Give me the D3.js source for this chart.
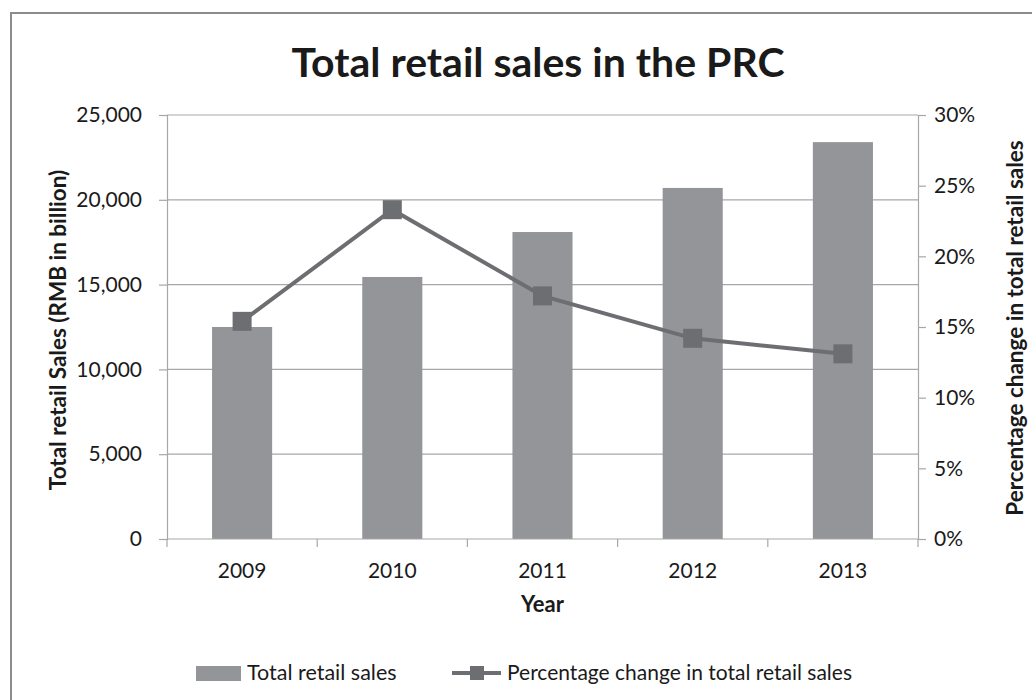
<!DOCTYPE html>
<html><head><meta charset="utf-8">
<script src="https://cdn.jsdelivr.net/npm/d3@7"></script>
<style>body{margin:0;background:#fff}svg{display:block}text{font-family:Lato,"Open Sans",sans-serif;fill:#1a1a1a}</style>
</head><body>
<svg id="c" width="1032" height="700"></svg>
<script>
const years = ["2009","2010","2011","2012","2013"];
const sales = [12500, 15450, 18100, 20700, 23400];
const pctChange = [0.154, 0.233, 0.172, 0.142, 0.131];
const leftTicks = [0, 5000, 10000, 15000, 20000, 25000];
const rightTicks = [0, 0.05, 0.10, 0.15, 0.20, 0.25, 0.30];
const titleText = "Total retail sales in the PRC";
const leftTitle = "Total retail Sales (RMB in billion)";
const rightTitle = "Percentage change in total retail sales";
const xTitle = "Year";
const legendLabels = ["Total retail sales", "Percentage change in total retail sales"];

const svg = d3.select("#c");
const m = {l:167, r:918, t:115, b:539};
const barColor = "#939598", lineColor = "#6d6e71", gridColor = "#a7a7a7";

svg.append("rect").attr("x",11).attr("y",13).attr("width",1040).attr("height",720)
  .attr("fill","#fff").attr("stroke","#8c8c8c").attr("stroke-width",2);

const x = d3.scaleBand().domain(years).range([m.l, m.r]).paddingInner(0.6).paddingOuter(0.3);
const xb = d3.scaleBand().domain(years).range([m.l, m.r]);
const yL = d3.scaleLinear().domain([0,25000]).range([m.b, m.t]);
const yR = d3.scaleLinear().domain([0,0.30]).range([m.b, m.t]);

// gridlines
svg.append("g").selectAll("line").data(leftTicks.slice(1)).join("line")
  .attr("x1", m.l).attr("x2", m.r).attr("y1", d=>yL(d)).attr("y2", d=>yL(d))
  .attr("stroke", gridColor).attr("stroke-width",1.2);

// bars
svg.append("g").selectAll("rect").data(years).join("rect")
  .attr("x", d=>x(d)).attr("width", x.bandwidth())
  .attr("y", (d,i)=>yL(sales[i])).attr("height", (d,i)=>m.b - yL(sales[i]))
  .attr("fill", barColor);

// axes
const fmt = d3.format(",");
const gl = svg.append("g").attr("transform",`translate(${m.l},0)`)
  .call(d3.axisLeft(yL).tickValues(leftTicks).tickFormat(fmt).tickSize(8).tickPadding(17));
const gr = svg.append("g").attr("transform",`translate(${m.r},0)`)
  .call(d3.axisRight(yR).tickValues(rightTicks).tickFormat(d3.format(".0%")).tickSize(8).tickPadding(8));
const gx = svg.append("g").attr("transform",`translate(0,${m.b})`)
  .call(d3.axisBottom(xb).tickSize(0).tickPadding(24));
// category boundary ticks
svg.append("g").selectAll("line").data(years.concat(["end"])).join("line")
  .attr("x1",(d,i)=> i<years.length ? xb(d) : m.r).attr("x2",(d,i)=> i<years.length ? xb(d) : m.r)
  .attr("y1", m.b).attr("y2", m.b+8).attr("stroke", gridColor).attr("stroke-width",1.2);

[gl,gr,gx].forEach(g=>{
  g.select(".domain").attr("stroke",gridColor).attr("stroke-width",1.2);
  g.selectAll(".tick line").attr("stroke",gridColor).attr("stroke-width",1.2);
  g.selectAll("text").style("font-size","21px").style("font-family","Lato,sans-serif").attr("fill","#1a1a1a");
});
gx.select(".domain").attr("d",`M${m.l},0H${m.r}`);

// line
const cx = (d)=> x(d) + x.bandwidth()/2;
const line = d3.line().x((d,i)=>cx(years[i])).y(d=>yR(d));
svg.append("path").datum(pctChange).attr("d", line).attr("fill","none")
  .attr("stroke", lineColor).attr("stroke-width",4);
svg.append("g").selectAll("rect").data(pctChange).join("rect")
  .attr("x",(d,i)=>cx(years[i])-9.5).attr("y",d=>yR(d)-9.5)
  .attr("width",19).attr("height",19).attr("fill",lineColor);

// titles
svg.append("text").attr("x",538).attr("y",77).attr("text-anchor","middle")
  .style("font-size","41px").style("font-weight","bold").text(titleText);
svg.append("text").attr("transform",`translate(66,330) rotate(-90)`).attr("text-anchor","middle")
  .style("font-size","22.5px").style("font-weight","bold").text(leftTitle);
svg.append("text").attr("transform",`translate(1023,328) rotate(-90)`).attr("text-anchor","middle")
  .style("font-size","22.5px").style("font-weight","bold").text(rightTitle);
svg.append("text").attr("x",(m.l+m.r)/2).attr("y",612).attr("text-anchor","middle")
  .style("font-size","22px").style("font-weight","bold").text(xTitle);

// legend
const lg = svg.append("g");
lg.append("rect").attr("x",196).attr("y",666).attr("width",45).attr("height",15).attr("fill",barColor);
lg.append("text").attr("x",247).attr("y",680).style("font-size","21.5px").text(legendLabels[0]);
lg.append("line").attr("x1",452).attr("x2",501).attr("y1",673).attr("y2",673).attr("stroke",lineColor).attr("stroke-width",4);
lg.append("rect").attr("x",470).attr("y",666).attr("width",14).attr("height",14).attr("fill",lineColor);
lg.append("text").attr("x",507).attr("y",680).style("font-size","21px").text(legendLabels[1]);
</script>
</body></html>
